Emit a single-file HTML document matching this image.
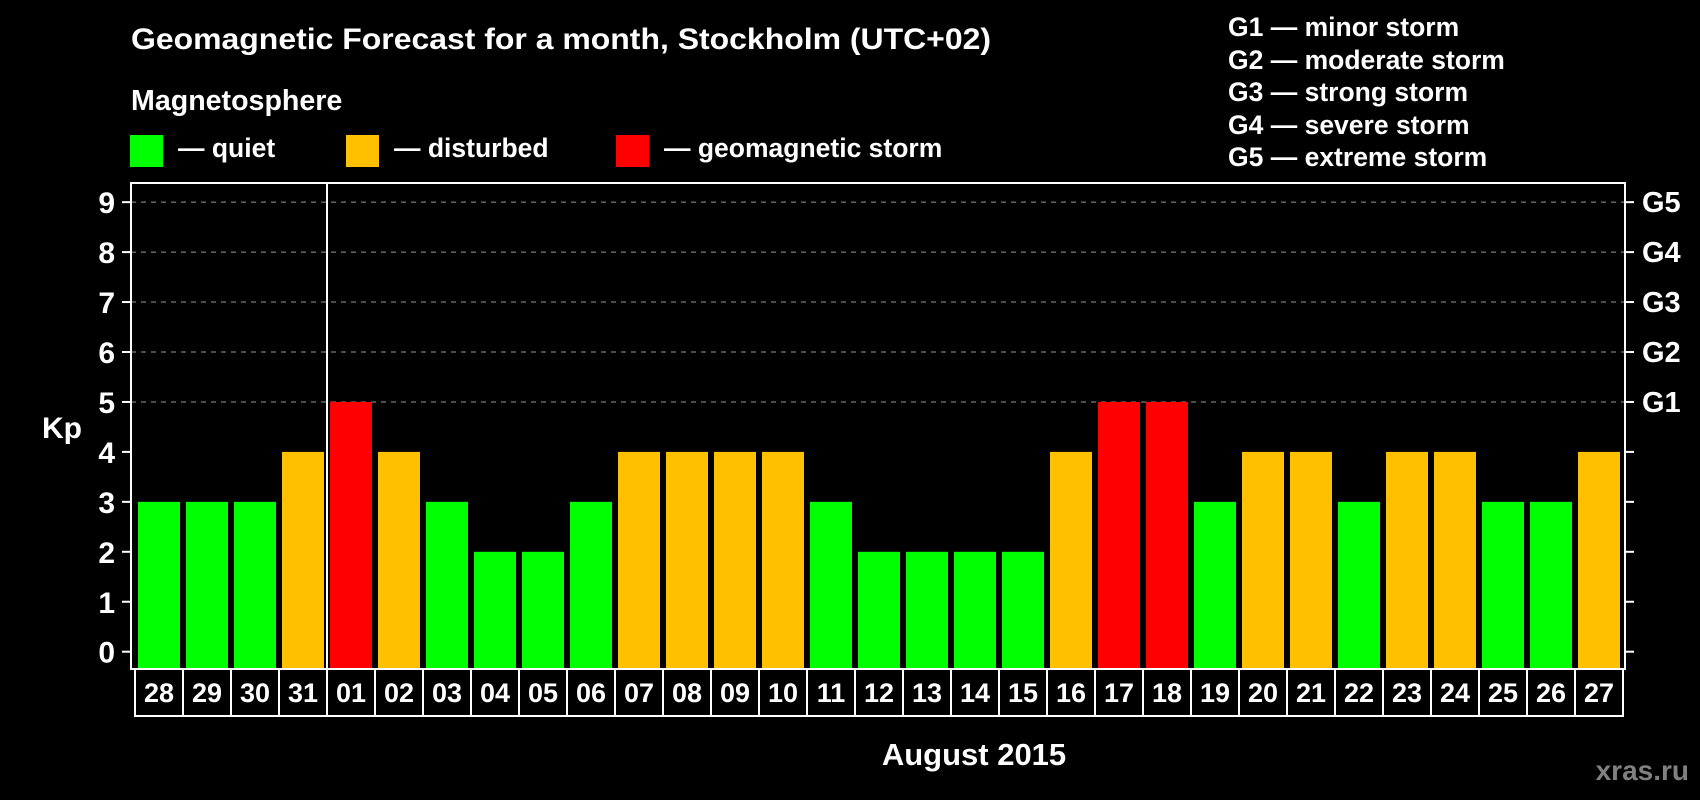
<!DOCTYPE html>
<html><head><meta charset="utf-8"><style>
html,body{margin:0;padding:0;background:#000;}
svg{display:block;font-family:"Liberation Sans",Arial,sans-serif;font-weight:bold;}
</style></head><body>
<svg id="chart" width="1700" height="800" viewBox="0 0 1700 800">
<rect x="0" y="0" width="1700" height="800" fill="#000"/>
<text x="131" y="49" font-size="30" fill="#fff" textLength="860" lengthAdjust="spacingAndGlyphs">Geomagnetic Forecast for a month, Stockholm (UTC+02)</text>
<text x="131" y="110" font-size="28.6" fill="#fff">Magnetosphere</text>
<g><rect x="130" y="135" width="33" height="32" fill="#00ff00"/><text x="178" y="157" font-size="26.5" fill="#fff">— quiet</text></g>
<g><rect x="346" y="135" width="33" height="32" fill="#ffc000"/><text x="394" y="157" font-size="26.5" fill="#fff">— disturbed</text></g>
<g><rect x="616" y="135" width="33" height="32" fill="#ff0000"/><text x="664" y="157" font-size="26.5" fill="#fff">— geomagnetic storm</text></g>
<g font-size="26.5" fill="#fff">
<text x="1228" y="36">G1 — minor storm</text>
<text x="1228" y="69">G2 — moderate storm</text>
<text x="1228" y="101">G3 — strong storm</text>
<text x="1228" y="134">G4 — severe storm</text>
<text x="1228" y="166">G5 — extreme storm</text>
</g>
<text x="42" y="438" font-size="30" fill="#fff">Kp</text>
<text x="974" y="765" font-size="31" fill="#fff" text-anchor="middle">August 2015</text>
<text x="1689" y="780" font-size="28" fill="#808080" text-anchor="end">xras.ru</text>
<g id="grid"></g><g id="bars"></g><g id="axes"></g>
</svg>
<script>
const days = ["28","29","30","31","01","02","03","04","05","06","07","08","09","10","11","12","13","14","15","16","17","18","19","20","21","22","23","24","25","26","27"];
const kpValues = [3,3,3,4,5,4,3,2,2,3,4,4,4,4,3,2,2,2,2,4,5,5,3,4,4,3,4,4,3,3,4];
const yTicks = [0,1,2,3,4,5,6,7,8,9];
const gLabels = ["G1","G2","G3","G4","G5"];
const gLevels = [5,6,7,8,9];
const monthStartIndex = 4;

const NS = "http://www.w3.org/2000/svg";
const plotL = 131, plotR = 1625, plotT = 183, plotB = 669;
const slot0 = 135, slotW = 48;
function y(v){ return 651.7 - v * 49.95; }
function x(i){ return slot0 + i * slotW; }
function mk(tag, attrs, parent){ const e = document.createElementNS(NS, tag); for (const k in attrs) e.setAttribute(k, attrs[k]); parent.appendChild(e); return e; }
function color(v){ return v >= 5 ? "#ff0000" : (v >= 4 ? "#ffc000" : "#00ff00"); }

const grid = document.getElementById("grid"), bars = document.getElementById("bars"), axes = document.getElementById("axes");
gLevels.forEach(function(v, i){
  const ln = mk("line", {x1: plotL, x2: plotR, y1: y(v), y2: y(v), stroke: "#999", "stroke-width": 1, "stroke-dasharray": "5,5"}, grid);
  
  
  const t = mk("text", {x: 1642, y: y(v) + 10, "font-size": 29, fill: "#fff"}, axes);
  t.textContent = gLabels[i];
  
  
});
kpValues.forEach(function(v, i){
  const r = mk("rect", {x: x(i) + 3, y: y(v), width: 42, height: plotB - 1 - y(v), fill: color(v)}, bars);
  
  
  const c = mk("rect", {x: x(i), y: plotB, width: slotW, height: 47, fill: "none", stroke: "#fff", "stroke-width": 2}, axes);
  
  
  const t = mk("text", {x: x(i) + slotW / 2, y: 702, "font-size": 27, fill: "#fff", "text-anchor": "middle"}, axes);
  t.textContent = days[i];
  
  
});
const frame = mk("rect", {x: plotL, y: plotT, width: plotR - plotL, height: plotB - plotT, fill: "none", stroke: "#fff", "stroke-width": 2}, axes);


const sep = mk("line", {x1: x(monthStartIndex), x2: x(monthStartIndex), y1: plotT, y2: plotB, stroke: "#fff", "stroke-width": 2}, axes);


yTicks.forEach(function(v){
  const tl = mk("line", {x1: 122, x2: plotL, y1: y(v), y2: y(v), stroke: "#fff", "stroke-width": 2}, axes);
  
  
  const tr = mk("line", {x1: plotR, x2: 1634, y1: y(v), y2: y(v), stroke: "#fff", "stroke-width": 2}, axes);
  
  
  const t = mk("text", {x: 115, y: y(v) + 11, "font-size": 30, fill: "#fff", "text-anchor": "end"}, axes);
  t.textContent = v;
  
  
});
</script>
</body></html>
